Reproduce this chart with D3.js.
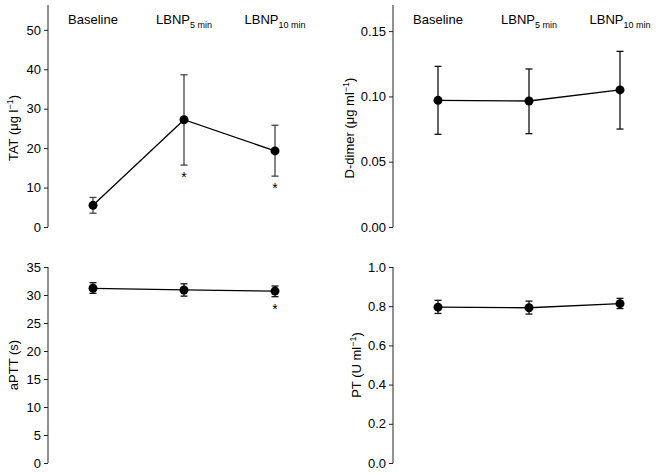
<!DOCTYPE html>
<html>
<head>
<meta charset="utf-8">
<script src="https://cdn.jsdelivr.net/npm/d3@7"></script>
<style>
  body { margin: 0; background: white; }
  svg { font-family: "Liberation Sans", Arial, sans-serif; }
</style>
</head>
<body>
<div id="chart"></div>
<script>
// data (mean, lower and upper error)
var phases = ["Baseline", "LBNP5", "LBNP10"];

var tatMean = [5.5, 27.2, 19.3];
var tatLow  = [3.5, 15.7, 12.9];
var tatHigh = [7.5, 38.6, 25.8];
var tatStar = [false, true, true];

var ddMean = [0.097, 0.0965, 0.105];
var ddLow  = [0.071, 0.0715, 0.075];
var ddHigh = [0.123, 0.121, 0.1345];
var ddStar = [false, false, false];

var apttMean = [31.2, 30.9, 30.7];
var apttLow  = [30.3, 29.8, 29.7];
var apttHigh = [32.2, 32.0, 31.6];
var apttStar = [false, false, true];

var ptMean = [0.795, 0.792, 0.813];
var ptLow  = [0.763, 0.760, 0.788];
var ptHigh = [0.830, 0.826, 0.840];
var ptStar = [false, false, false];

var tatTicks  = [0, 10, 20, 30, 40, 50];
var ddTicks   = [0, 0.05, 0.10, 0.15];
var apttTicks = [0, 5, 10, 15, 20, 25, 30, 35];
var ptTicks   = [0, 0.2, 0.4, 0.6, 0.8, 1.0];

var svg = d3.select("#chart").append("svg")
    .attr("width", 658)
    .attr("height", 473);

function panel(opt) {
  var g = svg.append("g");

  var x = d3.scalePoint()
      .domain(phases)
      .range([opt.x0 + 45, opt.x0 + 227]);

  var y = d3.scaleLinear()
      .domain([0, opt.ymax])
      .range([opt.bottom, opt.top]);

  // axis
  var axis = d3.axisLeft(y)
      .tickValues(opt.ticks)
      .tickSize(4)
      .tickPadding(3)
      .tickFormat(opt.fmt);

  var ax = g.append("g")
      .attr("transform", "translate(" + opt.x0 + ",0)")
      .call(axis);
  ax.select(".domain")
      .attr("d", "M0," + opt.bottom + "V" + opt.top)
      .style("stroke", "#222");
  ax.selectAll(".tick line").style("stroke", "#222");
  ax.selectAll(".tick text")
      .style("font-size", "13px")
      .style("font-family", "'Liberation Sans', Arial, sans-serif")
      .style("fill", "#000");

  // y label
  var lab = g.append("text")
      .attr("transform", "translate(" + opt.labX + "," + opt.labY + ") rotate(-90)")
      .attr("text-anchor", "middle")
      .style("font-size", "13px");
  lab.append("tspan").text(opt.label);
  if (opt.sup) {
    lab.append("tspan").attr("dy", -5).style("font-size", "9px").text(opt.sup);
    lab.append("tspan").attr("dy", 5).text(")");
  }

  // error bars
  var bars = g.selectAll(".err").data(phases).enter().append("g");
  bars.append("line")
      .attr("x1", function(d) { return x(d); })
      .attr("x2", function(d) { return x(d); })
      .attr("y1", function(d, i) { return y(opt.low[i]); })
      .attr("y2", function(d, i) { return y(opt.high[i]); })
      .style("stroke", opt.errColor)
      .style("stroke-width", 1.3);
  [opt.low, opt.high].forEach(function(arr) {
    bars.append("line")
        .attr("x1", function(d) { return x(d) - 3.5; })
        .attr("x2", function(d) { return x(d) + 3.5; })
        .attr("y1", function(d, i) { return y(arr[i]); })
        .attr("y2", function(d, i) { return y(arr[i]); })
        .style("stroke", opt.errColor)
        .style("stroke-width", 1.3);
  });

  // line + points
  var line = d3.line()
      .x(function(d, i) { return x(phases[i]); })
      .y(function(d) { return y(d); });
  g.append("path")
      .datum(opt.mean)
      .attr("d", line)
      .style("fill", "none")
      .style("stroke", "#000")
      .style("stroke-width", 1.3);
  g.selectAll(".pt").data(opt.mean).enter()
    .append("circle")
      .attr("cx", function(d, i) { return x(phases[i]); })
      .attr("cy", function(d) { return y(d); })
      .attr("r", 4.5)
      .style("fill", "#000");

  // significance stars, under the lower error bar
  var starred = phases.filter(function(d, i) { return opt.star[i]; });
  g.selectAll(".star").data(starred).enter()
    .append("text")
      .attr("x", function(d) { return x(d); })
      .attr("y", function(d) { return y(opt.low[phases.indexOf(d)]) + 17; })
      .attr("text-anchor", "middle")
      .style("font-size", "14px")
      .text("*");

  // phase headers
  if (opt.header) {
    var hd = g.selectAll(".hd").data(phases).enter()
      .append("text")
        .attr("x", function(d) { return x(d); })
        .attr("y", 24)
        .attr("text-anchor", "middle")
        .style("font-size", "13px");
    hd.each(function(d) {
      var t = d3.select(this);
      if (d == "Baseline") {
        t.text("Baseline");
      } else {
        t.append("tspan").text("LBNP");
        t.append("tspan").attr("dy", 4).style("font-size", "9px")
          .text(d == "LBNP5" ? "5 min" : "10 min");
      }
    });
  }
}

panel({x0: 48, top: 5, bottom: 227, ymax: 56.3, ticks: tatTicks,
  fmt: d3.format("d"), mean: tatMean, low: tatLow, high: tatHigh, star: tatStar,
  label: "TAT (\u03bcg l", sup: "\u22121", labX: 18, labY: 128, errColor: "#444", header: true});

panel({x0: 393, top: 5, bottom: 227, ymax: 0.17, ticks: ddTicks,
  fmt: d3.format(".2f"), mean: ddMean, low: ddLow, high: ddHigh, star: ddStar,
  label: "D-dimer (\u03bcg ml", sup: "\u22121", labX: 354, labY: 128, errColor: "#111", header: true});

panel({x0: 48, top: 267, bottom: 463, ymax: 35, ticks: apttTicks,
  fmt: d3.format("d"), mean: apttMean, low: apttLow, high: apttHigh, star: apttStar,
  label: "aPTT (s)", sup: null, labX: 18, labY: 365, errColor: "#111", header: false});

panel({x0: 393, top: 267, bottom: 463, ymax: 1.0, ticks: ptTicks,
  fmt: d3.format(".1f"), mean: ptMean, low: ptLow, high: ptHigh, star: ptStar,
  label: "PT (U ml", sup: "\u22121", labX: 361, labY: 365, errColor: "#111", header: false});
</script>
</body>
</html>
